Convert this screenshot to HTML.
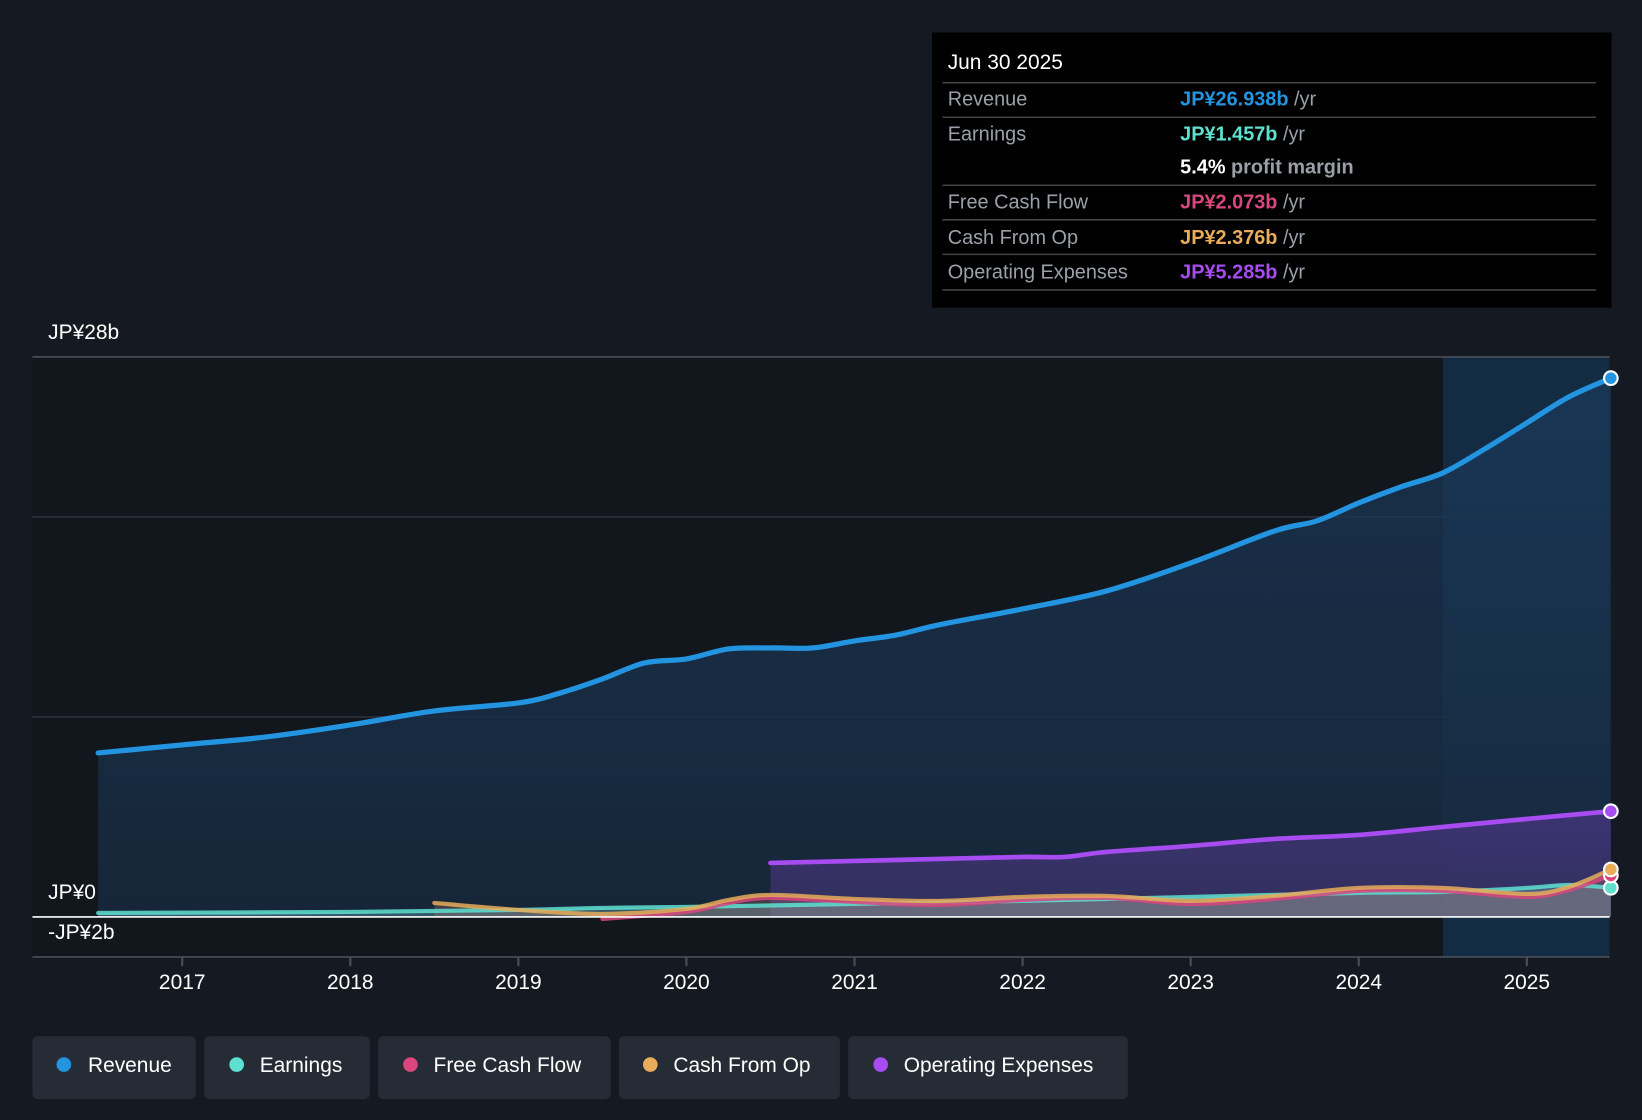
<!DOCTYPE html>
<html><head><meta charset="utf-8"><style>
html,body{margin:0;padding:0;background:#151a22;}
svg{display:block;font-family:"Liberation Sans",sans-serif;}
</style></head><body>
<svg id="chart" width="1642" height="1120" viewBox="0 0 1568 1070" preserveAspectRatio="none" xmlns="http://www.w3.org/2000/svg">
<defs>
<linearGradient id="revFill" x1="0" y1="0" x2="0" y2="1"><stop offset="0" stop-color="#1a3a5c" stop-opacity="0.7"/><stop offset="1" stop-color="#17283b" stop-opacity="0.9"/></linearGradient>
<linearGradient id="opFill" x1="0" y1="0" x2="0" y2="1"><stop offset="0" stop-color="#5a3a9a" stop-opacity="0.55"/><stop offset="1" stop-color="#4a3a80" stop-opacity="0.5"/></linearGradient>
</defs>
<rect x="0" y="0" width="1568" height="1070" fill="#151a22"/>
<rect x="31" y="341" width="1347" height="573" fill="#12161d"/>
<rect x="1378" y="341" width="159" height="573" fill="#142c43"/>
<g id="grid"></g>
<g id="series"></g>
<g id="axes"></g>
<g>
<rect x="890" y="31" width="649" height="263" fill="#000"/>
<text x="905" y="66" fill="#fff" font-size="20">Jun 30 2025</text>
<line x1="900" y1="79" x2="1524" y2="79" stroke="#444" stroke-width="1.5"/>
<text x="905" y="101" fill="#9aa0a8" font-size="19">Revenue</text>
<text x="1127" y="101" font-size="19" font-weight="bold" fill="#2394e0">JP¥26.938b <tspan fill="#9aa0a8" font-weight="normal">/yr</tspan></text>
<line x1="900" y1="112" x2="1524" y2="112" stroke="#444" stroke-width="1.5"/>
<text x="905" y="134" fill="#9aa0a8" font-size="19">Earnings</text>
<text x="1127" y="134" font-size="19" font-weight="bold" fill="#5ee0d0">JP¥1.457b <tspan fill="#9aa0a8" font-weight="normal">/yr</tspan></text>
<text x="1127" y="166" font-size="19" font-weight="bold" fill="#fff">5.4% <tspan fill="#9aa0a8">profit margin</tspan></text>
<line x1="900" y1="177" x2="1524" y2="177" stroke="#444" stroke-width="1.5"/>
<text x="905" y="199" fill="#9aa0a8" font-size="19">Free Cash Flow</text>
<text x="1127" y="199" font-size="19" font-weight="bold" fill="#d9477e">JP¥2.073b <tspan fill="#9aa0a8" font-weight="normal">/yr</tspan></text>
<line x1="900" y1="210" x2="1524" y2="210" stroke="#444" stroke-width="1.5"/>
<text x="905" y="233" fill="#9aa0a8" font-size="19">Cash From Op</text>
<text x="1127" y="233" font-size="19" font-weight="bold" fill="#e8ac5a">JP¥2.376b <tspan fill="#9aa0a8" font-weight="normal">/yr</tspan></text>
<line x1="900" y1="243" x2="1524" y2="243" stroke="#444" stroke-width="1.5"/>
<text x="905" y="266" fill="#9aa0a8" font-size="19">Operating Expenses</text>
<text x="1127" y="266" font-size="19" font-weight="bold" fill="#a64cf0">JP¥5.285b <tspan fill="#9aa0a8" font-weight="normal">/yr</tspan></text>
<line x1="900" y1="277" x2="1524" y2="277" stroke="#444" stroke-width="1.5"/>
</g>
<g>
<g><rect x="31" y="990" width="156" height="60" rx="5" fill="#262c36"/><circle cx="61" cy="1017" r="7" fill="#2394e0"/><text x="84" y="1024" fill="#fff" font-size="20">Revenue</text></g>
<g><rect x="195" y="990" width="158" height="60" rx="5" fill="#262c36"/><circle cx="226" cy="1017" r="7" fill="#5ee0d0"/><text x="248" y="1024" fill="#fff" font-size="20">Earnings</text></g>
<g><rect x="361" y="990" width="222" height="60" rx="5" fill="#262c36"/><circle cx="392" cy="1017" r="7" fill="#d9477e"/><text x="414" y="1024" fill="#fff" font-size="20">Free Cash Flow</text></g>
<g><rect x="591" y="990" width="211" height="60" rx="5" fill="#262c36"/><circle cx="621" cy="1017" r="7" fill="#e8ac5a"/><text x="643" y="1024" fill="#fff" font-size="20">Cash From Op</text></g>
<g><rect x="810" y="990" width="267" height="60" rx="5" fill="#262c36"/><circle cx="841" cy="1017" r="7" fill="#a64cf0"/><text x="863" y="1024" fill="#fff" font-size="20">Operating Expenses</text></g>
</g>
</svg>
<script>
const revT = [2016.5,2017,2017.5,2018,2018.5,2019,2019.25,2019.5,2019.75,2020,2020.25,2020.5,2020.75,2021,2021.25,2021.5,2022,2022.5,2023,2023.5,2023.75,2024,2024.25,2024.5,2024.75,2025,2025.25,2025.5];
const revV = [8.2,8.6,9.0,9.6,10.3,10.7,11.2,11.9,12.7,12.9,13.4,13.45,13.45,13.8,14.1,14.6,15.4,16.3,17.7,19.3,19.8,20.7,21.5,22.2,23.4,24.7,26.0,26.94];
const opexT = [2020.5,2021,2021.5,2022,2022.25,2022.5,2023,2023.5,2024,2024.5,2025,2025.5];
const opexV = [2.7,2.8,2.9,3.0,3.0,3.25,3.55,3.9,4.1,4.5,4.9,5.285];
const earnT = [2016.5,2018,2019,2019.5,2020,2021,2022,2023,2024,2024.5,2025,2025.25,2025.5];
const earnV = [0.2,0.25,0.35,0.45,0.5,0.65,0.8,1.0,1.2,1.25,1.45,1.6,1.457];
const cfoT = [2018.5,2019,2019.5,2020,2020.25,2020.5,2021,2021.5,2022,2022.5,2023,2023.5,2024,2024.5,2025,2025.25,2025.5];
const cfoV = [0.7,0.35,0.15,0.4,0.85,1.1,0.9,0.8,1.0,1.05,0.8,1.05,1.45,1.45,1.15,1.5,2.376];
const fcfT = [2019.5,2020,2020.25,2020.5,2021,2021.5,2022,2022.5,2023,2023.5,2024,2024.5,2025,2025.25,2025.5];
const fcfV = [-0.1,0.25,0.7,0.95,0.75,0.6,0.85,0.95,0.65,0.9,1.3,1.3,1.0,1.35,2.073];
const yTicks = [28,20,10,0,-2];
const xTicks = [2017,2018,2019,2020,2021,2022,2023,2024,2025];

const NS='http://www.w3.org/2000/svg';
const X = t => 174 + (t-2017)*160.5;
const Y = v => 876 - v*19.107;
function mk(tag, attrs, parent){const e=document.createElementNS(NS,tag);for(const k in attrs)e.setAttribute(k,attrs[k]);parent.appendChild(e);return e;}
function curve(ts, vs){
  const p = ts.map((t,i)=>[X(t),Y(vs[i])]);
  let d='M'+p[0][0]+','+p[0][1];
  for(let i=0;i<p.length-1;i++){
    const p0=p[Math.max(0,i-1)],p1=p[i],p2=p[i+1],p3=p[Math.min(p.length-1,i+2)];
    const c1=[p1[0]+(p2[0]-p0[0])/6,p1[1]+(p2[1]-p0[1])/6];
    const c2=[p2[0]-(p3[0]-p1[0])/6,p2[1]-(p3[1]-p1[1])/6];
    d+=' C'+c1[0]+','+c1[1]+' '+c2[0]+','+c2[1]+' '+p2[0]+','+p2[1];
  }
  return d;
}
const grid=document.getElementById('grid'), ser=document.getElementById('series'), ax=document.getElementById('axes');
yTicks.forEach(v=>{
  if(v===0) return;
  const l=mk('line',{x1:31,x2:1537,y1:Y(v),y2:Y(v),stroke:v===28||v===-2?'#4a4f58':'#2c313a','stroke-width':1.5},grid);
  
  
});
function area(ts,vs,fill,name){
  const d=curve(ts,vs)+' L'+X(ts[ts.length-1])+','+Y(0)+' L'+X(ts[0])+','+Y(0)+' Z';
  const a=mk('path',{d:d,fill:fill},ser);
  
  
}
function line(ts,vs,color,w,name,op){
  const l=mk('path',{d:curve(ts,vs),fill:'none',stroke:color,'stroke-width':w,'stroke-linecap':'round',opacity:op||1},ser);
  
  
}
area(revT,revV,'url(#revFill)','revenue-area');
area(opexT,opexV,'url(#opFill)','opex-area');
area(earnT,earnV,'rgba(110,180,190,0.35)','earnings-area');
area(cfoT,cfoV,'rgba(200,130,120,0.25)','cfo-area');
line(revT,revV,'#2394e0',5,'revenue-line');
line(opexT,opexV,'#a64cf0',4.5,'opex-line');
line(earnT,earnV,'#5ee0d0',4,'earnings-line',0.85);
line(fcfT,fcfV,'#d9477e',4,'fcf-line',0.85);
line(cfoT,cfoV,'#e8ac5a',4,'cfo-line',0.85);
[[revT,revV,'#2394e0','revenue'],[opexT,opexV,'#a64cf0','opex'],[earnT,earnV,'#5ee0d0','earnings'],[fcfT,fcfV,'#d9477e','fcf'],[cfoT,cfoV,'#e8ac5a','cfo']].forEach(s=>{
  const n=s[0].length-1;
  const c=mk('circle',{cx:X(s[0][n]),cy:Y(s[1][n]),r:6.5,fill:s[2],stroke:'#fff','stroke-width':2},ser);
  
  
});
const zl=mk('line',{x1:31,x2:1537,y1:Y(0),y2:Y(0),stroke:'#fff','stroke-width':1.5},ax);


const lbls=[[28,'JP¥28b',324],[0,'JP¥0',859],[-2,'-JP¥2b',897]];
lbls.forEach(l=>{
  const t=mk('text',{x:46,y:l[2],fill:'#fff','font-size':20},ax);
  t.textContent=l[1];
  
  
});
xTicks.forEach(yr=>{
  const tk=mk('line',{x1:X(yr),x2:X(yr),y1:914,y2:923,stroke:'#4a4f58','stroke-width':2},ax);
  
  
  const t=mk('text',{x:X(yr),y:945,fill:'#fff','font-size':20,'text-anchor':'middle'},ax);
  t.textContent=yr;
  
  
});
</script>
</body></html>
